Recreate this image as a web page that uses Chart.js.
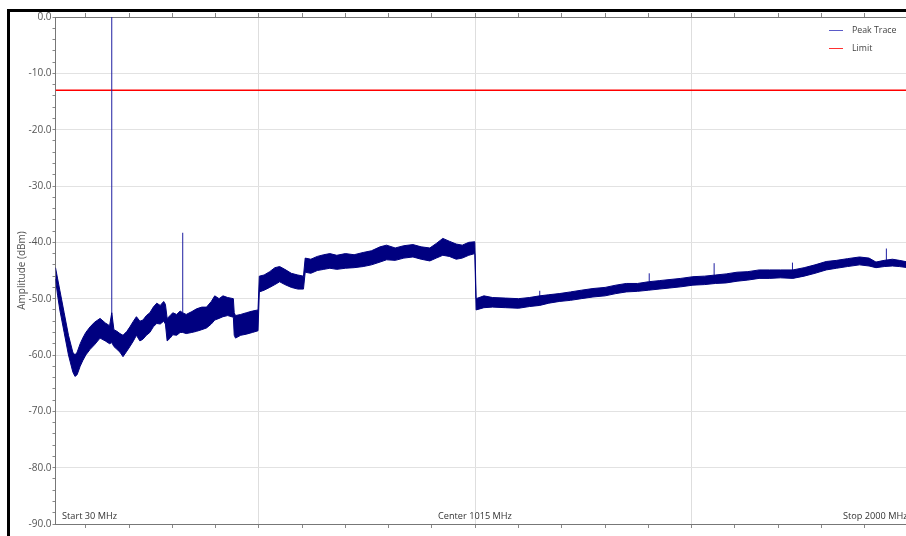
<!DOCTYPE html>
<html>
<head>
<meta charset="utf-8">
<script src="https://cdn.jsdelivr.net/npm/chart.js@4.4.1/dist/chart.umd.min.js"></script>
<style>
  html, body { margin: 0; padding: 0; background: #fff; overflow: hidden; }
  #wrap { position: relative; width: 912px; height: 536px; }
  #frame { position: absolute; left: 7px; top: 9px; width: 920px; height: 540px;
           border-left: 3px solid #000; border-top: 3px solid #000; pointer-events: none; }
  .lbl { position: absolute; font-family: "Open Sans", sans-serif; font-size: 9.2px; color: #333; white-space: nowrap; }
  .leg { position: absolute; height: 1px; width: 14px; }
</style>
</head>
<body>
<div id="wrap">
  <canvas id="grafico"></canvas>
  <div id="frame"></div>
  <div class="leg" style="left:829px; top:30px; background:#5a5ac8;"></div>
  <div class="lbl" style="left:852px; top:24px; color:#444; font-size:8.8px;">Peak Trace</div>
  <div class="leg" style="left:829px; top:48px; background:#ff3030;"></div>
  <div class="lbl" style="left:852px; top:42px; color:#444; font-size:8.8px;">Limit</div>
  <div class="lbl" style="left:62px; top:509px;">Start 30 MHz</div>
  <div class="lbl" style="left:438px; top:509px;">Center 1015 MHz</div>
  <div class="lbl" style="left:843px; top:509px;">Stop 2000 MHz</div>
</div>
<script>
// Frequências (MHz) e envoltória do traço de pico (dBm)
const freqs = [30, 35, 40, 50, 60, 70, 75, 80, 87, 93, 100, 110, 120, 133, 145, 155, 160, 165, 172, 179,
  186, 195, 202, 210, 217, 225, 232, 240, 248, 256, 264, 272, 280, 284, 288, 295, 301, 310, 318, 324,
  332, 345, 356, 368, 379, 390, 398, 408, 417, 428, 441, 443, 446, 458, 471, 485, 498, 501, 512, 525,
  537, 548, 560, 575, 590, 603, 607, 620, 635, 650, 664, 680, 700, 720, 741, 760, 780, 795, 815, 835,
  856, 875, 895, 910, 925, 940, 956, 970, 985, 999, 1002, 1020, 1040, 1070, 1100, 1125, 1149, 1170, 1194, 1220,
  1245, 1272, 1300, 1325, 1349, 1375, 1400, 1425, 1450, 1475, 1503, 1530, 1555, 1580, 1605, 1630, 1656, 1680, 1705, 1734,
  1760, 1785, 1811, 1835, 1860, 1888, 1910, 1926, 1945, 1964, 1980, 2000];
const picoSup = [-44.5, -46.5, -48.5, -52.5, -56.5, -59.5, -60, -59.5, -58, -57, -56, -55, -54.2, -53.5, -54.3, -54.8, -52.5, -55.5, -55.8, -56.2,
  -56.5, -55.8, -55, -54, -53.2, -54, -53.8, -53, -52.5, -51.5, -50.8, -51.2, -50.5, -51, -53.5, -53, -52.5, -52.8, -52.2, -52.5,
  -52.8, -52.3, -51.8, -51.5, -51.5, -50.5, -49.5, -50, -49.5, -49.8, -50, -52.5, -53, -52.8, -52.5, -52.2, -52, -46, -45.8, -45.2,
  -44.5, -44.3, -44.8, -45.5, -45.8, -46, -42.8, -43, -42.5, -42.2, -42, -42.3, -42, -42.2, -41.8, -41.5, -40.8, -40.5, -41, -40.6,
  -40.4, -40.8, -41, -40.2, -39.3, -39.8, -40.3, -40.5, -40, -39.9, -50, -49.5, -49.8, -49.9, -50, -49.8, -49.5, -49.3, -49.1, -48.8,
  -48.5, -48.2, -48, -47.6, -47.3, -47.3, -47, -46.8, -46.6, -46.4, -46.1, -46, -45.8, -45.6, -45.3, -45.2, -44.9, -44.9, -44.9, -44.9,
  -44.5, -44, -43.4, -43.2, -42.9, -42.6, -42.8, -43.5, -43.2, -43, -43.2, -43.5];
const picoInf = [-46.5, -49.5, -52, -56, -60, -63, -63.8, -63.5, -62, -61, -60, -59, -58.2, -57, -57.5, -58, -57.8, -58.5, -59, -59.5,
  -60.3, -59.3, -58.5, -57.5, -56.5, -57.5, -57.2, -56.5, -56, -55, -54.4, -54.5, -54, -54.5, -57.5, -57, -56.4, -56.5, -56, -56,
  -56.2, -56, -55.8, -55.5, -55.2, -54.5, -53.8, -53.5, -53.2, -53, -53.3, -56.5, -57, -56.5, -56.3, -56, -55.7, -48.8, -48.5, -48,
  -47.5, -47, -47.5, -48, -48.3, -48.3, -45.3, -45.5, -45, -44.8, -44.6, -44.8, -44.6, -44.5, -44.3, -44, -43.5, -43.1, -43.2, -42.8,
  -42.6, -43, -43.3, -42.8, -42.3, -42.5, -43, -42.8, -42.3, -42, -52, -51.6, -51.5, -51.6, -51.7, -51.4, -51.2, -50.8, -50.5, -50.3,
  -50, -49.7, -49.5, -49.1, -48.8, -48.7, -48.5, -48.3, -48.1, -47.9, -47.6, -47.5, -47.3, -47.2, -46.9, -46.7, -46.4, -46.4, -46.3, -46.4,
  -46, -45.5, -44.9, -44.6, -44.3, -44, -44.2, -44.5, -44.3, -44.2, -44.3, -44.5];
// Espúrios isolados
const espurioFreq = [160, 324, 1149, 1402, 1552, 1733, 1950];
const espurioTopo = [0, -38.3, -48.6, -45.5, -43.7, -43.6, -41.1];
const espurioBase = [-55, -52.5, -50, -47, -46, -45, -43.2];
// Limite
const limite = -13;
const limiteFreq = [30, 2000];

const corTraco = "#000080";

document.addEventListener("DOMContentLoaded", () => {
  criarGrafico();
});

function criarGrafico() {
  const ctx = document.getElementById("grafico").getContext("2d");
  const inf = freqs.map((f, i) => ({ x: f, y: picoInf[i] }));
  const sup = freqs.map((f, i) => ({ x: f, y: picoSup[i] }));
  const esp = [];
  espurioFreq.forEach((f, i) => {
    esp.push({ x: f, y: espurioBase[i] }, { x: f, y: espurioTopo[i] }, { x: f, y: null });
  });
  const lim = limiteFreq.map(f => ({ x: f, y: limite }));

  const fonte = { family: "'Open Sans', sans-serif", size: 10 };
  const xTicks = [];
  for (let v = 100; v <= 2000; v += 100) xTicks.push({ value: v });

  new Chart(ctx, {
    type: "line",
    data: {
      datasets: [
        { label: "inf", data: inf, borderColor: corTraco, borderWidth: 1, pointRadius: 0, fill: false },
        { label: "Peak Trace", data: sup, borderColor: corTraco, borderWidth: 1, pointRadius: 0,
          fill: "-1", backgroundColor: corTraco },
        { label: "esp", data: esp, borderColor: "#1e1ea0", borderWidth: 1, pointRadius: 0, spanGaps: false },
        { label: "Limit", data: lim, borderColor: "#ff0000", borderWidth: 1.5, pointRadius: 0 }
      ]
    },
    options: {
      responsive: true,
      maintainAspectRatio: false,
      animation: false,
      layout: { padding: { top: 13, right: 4, bottom: 8, left: 0 } },
      plugins: { legend: { display: false }, tooltip: { enabled: false } },
      scales: {
        x: {
          type: "linear", position: "bottom", min: 30, max: 2000,
          afterBuildTicks: s => { s.ticks = xTicks.slice(); },
          afterFit: s => { s.height = 4; },
          ticks: { display: false },
          grid: {
            color: c => (c.tick && c.tick.value % 500 === 0) ? "#dedede" : "rgba(0,0,0,0)",
            tickColor: "#888", tickLength: 4
          },
          border: { color: "#777", width: 1 }
        },
        x2: {
          type: "linear", position: "top", min: 30, max: 2000,
          afterBuildTicks: s => { s.ticks = xTicks.slice(); },
          afterFit: s => { s.height = 4; },
          ticks: { display: false },
          grid: { color: "rgba(0,0,0,0)", tickColor: "#888", tickLength: 4 },
          border: { color: "#777", width: 1 }
        },
        y: {
          min: -90, max: 0,
          afterFit: s => { s.width = 55.5; },
          ticks: {
            stepSize: 2, autoSkip: false, padding: 1, color: "#555", font: fonte,
            callback: v => (v % 10 === 0 ? v.toFixed(1) : "")
          },
          grid: {
            color: c => (c.tick && c.tick.value % 10 === 0) ? "#e2e2e2" : "rgba(0,0,0,0)",
            tickColor: "#888", tickLength: 3
          },
          border: { color: "#777", width: 1 },
          title: { display: true, text: "Amplitude (dBm)", color: "#555", font: fonte, padding: { top: 16, bottom: 0 } }
        }
      }
    }
  });
}
</script>
</body>
</html>
